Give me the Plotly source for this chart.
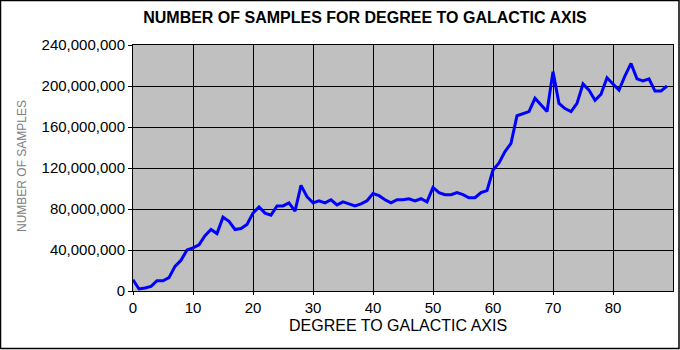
import plotly.graph_objects as go

# Sample counts per degree of angle to the galactic axis (millions)
degrees = list(range(90))
samples_millions = [
    11, 2, 3, 4.5, 10, 10, 13, 24, 30, 40,
    42, 45, 54, 60, 56, 72, 68, 60, 61, 65,
    76, 82, 76, 74, 83, 83, 86, 78, 103, 92,
    86, 88, 86, 89, 84, 87, 85, 83, 85, 88,
    95, 93, 89, 86, 89, 89, 90, 88, 90, 87,
    101, 96, 94, 94, 96, 94, 91, 91, 96, 98,
    118, 125, 136, 144, 171, 173, 175, 188, 181, 175,
    214, 183, 178, 175, 183, 202, 196, 186, 192, 208,
    202, 196, 210, 222, 207, 205, 207, 195, 195, 200,
]
samples = [v * 1e6 for v in samples_millions]

x_ticks = [0, 10, 20, 30, 40, 50, 60, 70, 80]
y_ticks = [0, 40e6, 80e6, 120e6, 160e6, 200e6, 240e6]

W, H = 680, 350
ML, MR, MT, MB = 133, 7, 45, 59
PW, PH = W - ML - MR, H - MT - MB

def px_x(p):
    return (p - ML) / PW

def px_y(p):
    return (H - MB - p) / PH

FONT = "Liberation Sans, Arial, sans-serif"

fig = go.Figure(
    go.Scatter(
        x=degrees,
        y=samples,
        mode="lines",
        line=dict(color="#0000ff", width=3),
        hoverinfo="x+y",
    )
)

fig.update_layout(
    width=W,
    height=H,
    margin=dict(l=ML, r=MR, t=MT, b=MB),
    paper_bgcolor="white",
    plot_bgcolor="#c0c0c0",
    showlegend=False,
    title=dict(
        text="<b>NUMBER OF SAMPLES FOR DEGREE TO GALACTIC AXIS</b>",
        xref="container", yref="container",
        x=365 / W, y=1 - 17 / H,
        xanchor="center", yanchor="middle",
        font=dict(family=FONT, size=16, color="black"),
    ),
    xaxis=dict(
        range=[0, 90],
        tickmode="array",
        tickvals=x_ticks,
        ticktext=[str(t) for t in x_ticks],
        showgrid=True,
        gridcolor="black",
        gridwidth=1,
        showline=True,
        linecolor="black",
        linewidth=1,
        mirror=True,
        ticks="outside",
        ticklen=3,
        tickcolor="black",
        zeroline=False,
        tickfont=dict(family=FONT, size=15, color="black"),
    ),
    yaxis=dict(
        range=[0, 240e6],
        tickmode="array",
        tickvals=y_ticks,
        ticktext=[f"{int(t):,}" for t in y_ticks],
        showgrid=True,
        gridcolor="black",
        gridwidth=1,
        showline=True,
        linecolor="black",
        linewidth=1,
        mirror=True,
        ticks="outside",
        ticklen=4,
        tickcolor="black",
        zeroline=False,
        tickfont=dict(family=FONT, size=15, color="black"),
    ),
    annotations=[
        dict(
            text="DEGREE TO GALACTIC AXIS",
            xref="paper", yref="paper",
            x=px_x(398), y=px_y(325),
            xanchor="center", yanchor="middle",
            showarrow=False,
            font=dict(family=FONT, size=16, color="black"),
        ),
        dict(
            text="NUMBER OF SAMPLES",
            xref="paper", yref="paper",
            x=px_x(22), y=px_y(166),
            xanchor="center", yanchor="middle",
            textangle=-90,
            showarrow=False,
            font=dict(family=FONT, size=12, color="#808080"),
        ),
    ],
    shapes=[
        dict(
            type="rect",
            xref="paper", yref="paper",
            x0=px_x(0.5), x1=px_x(679),
            y0=px_y(348.5), y1=px_y(0.5),
            line=dict(color="black", width=1.5),
            fillcolor="rgba(0,0,0,0)",
            layer="above",
        )
    ],
)

fig.write_html("out.html")
